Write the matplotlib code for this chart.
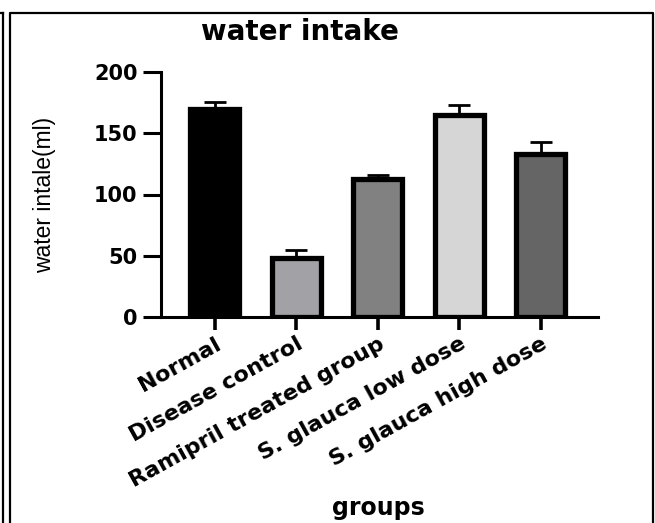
import matplotlib
matplotlib.use("Agg")
import matplotlib.pyplot as plt
from matplotlib.lines import Line2D

groups = ["Normal", "Disease control", "Ramipril treated group",
          "S. glauca low dose", "S. glauca high dose"]
intake = [170, 48, 113, 165, 133]
sem = [5.5, 6.5, 3, 8, 10]
bar_colors = ["#000000", "#a2a1a6", "#818181", "#d6d6d6", "#656565"]

W, H = 655, 523
fig = plt.figure(figsize=(W / 100, H / 100), dpi=100)
ax = fig.add_axes((161 / W, 1 - 317 / H, 437 / W, 245 / H))

x = range(len(groups))
ax.errorbar(x, intake, yerr=[[0] * len(sem), sem], fmt="none", ecolor="black",
            elinewidth=2, capsize=8, capthick=2, zorder=1)
ax.bar(x, intake, width=0.6, color=bar_colors, edgecolor="black",
       linewidth=3.8, zorder=2)

ax.set_xlim(-0.66, 4.7)
ax.set_ylim(0, 200)
ax.set_yticks([0, 50, 100, 150, 200])
ax.spines[["top", "right"]].set_visible(False)
ax.spines["left"].set_linewidth(2.2)
ax.spines["bottom"].set_linewidth(2.2)
ax.tick_params(axis="y", length=13, width=2.2, pad=4)
ax.tick_params(axis="x", length=9, width=2.6, pad=3)

for lab in ax.get_yticklabels():
    lab.set_fontsize(15)
    lab.set_fontweight("bold")

ax.set_xticks(list(x))
ax.set_xticklabels(groups, rotation=29, ha="right", va="top",
                   rotation_mode="anchor", fontsize=16, fontweight="bold")

ax.set_ylabel("water intale(ml)", fontsize=16.5, family="Liberation Sans")
ax.yaxis.set_label_coords(-0.24, 0.5)
ax.set_xlabel("groups", fontsize=17, fontweight="bold")
ax.xaxis.set_label_coords(0.497, -0.78)
ax.xaxis.label.set_va("center")

fig.text(300 / W, 1 - 32 / H, "water intake", ha="center", va="center",
         fontsize=20, fontweight="bold")

# page frame lines
frame = dict(color="black", linewidth=1.6, transform=fig.transFigure)
fig.add_artist(Line2D([0, 3 / W], [1 - 13 / H] * 2, **frame))
fig.add_artist(Line2D([3 / W] * 2, [1 - 13 / H, 0], **frame))
fig.add_artist(Line2D([10 / W, 10 / W, 653 / W, 653 / W],
                      [0, 1 - 13 / H, 1 - 13 / H, 0], **frame))

fig.savefig("out.png", dpi=100)
